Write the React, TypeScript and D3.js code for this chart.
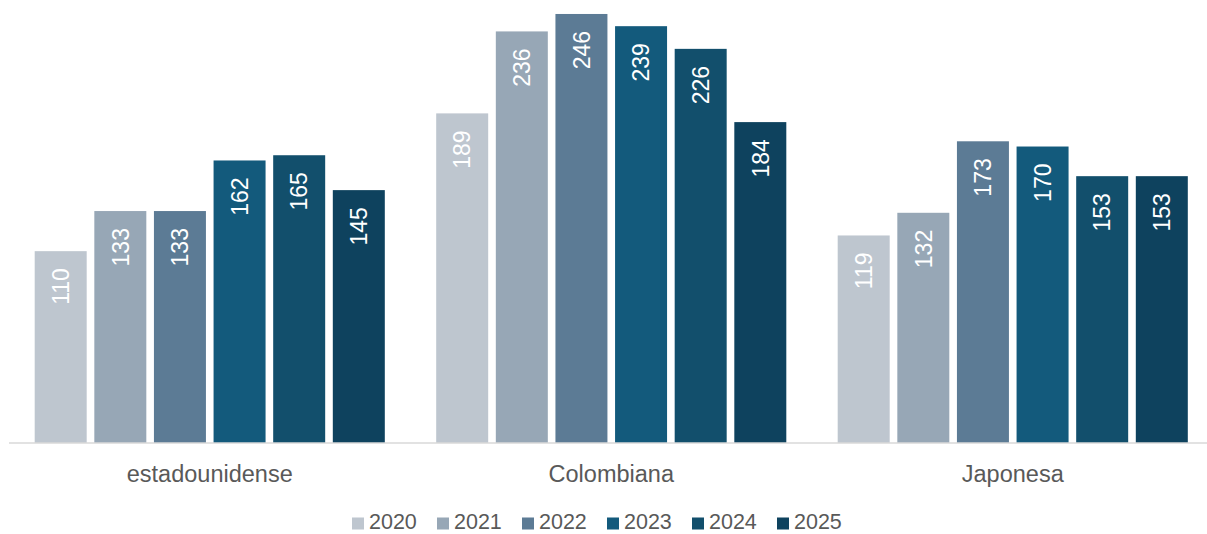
import React from "react";
import * as d3 from "d3";

const categories = ["estadounidense", "Colombiana", "Japonesa"];
const years = ["2020", "2021", "2022", "2023", "2024", "2025"];
const values2020 = [110, 189, 119];
const values2021 = [133, 236, 132];
const values2022 = [133, 246, 173];
const values2023 = [162, 239, 170];
const values2024 = [165, 226, 153];
const values2025 = [145, 184, 153];
const seriesValues = [values2020, values2021, values2022, values2023, values2024, values2025];
const colors = ["#BEC6CF", "#97A7B6", "#5C7B95", "#135A7C", "#124F6C", "#0E425E"];

const W = 1207;
const H = 534;
const baseY = 443;

export default function App() {
  const x0 = d3
    .scaleBand<string>()
    .domain(categories)
    .range([9, 1213.5])
    .paddingInner(0.128)
    .paddingOuter(0.064);
  const x1 = d3
    .scaleBand<string>()
    .domain(years)
    .range([0, x0.bandwidth()])
    .paddingInner(0.128);
  const y = d3.scaleLinear().domain([0, 250]).range([baseY, baseY - 250 * 1.744]);

  const font = "Liberation Sans, Arial, sans-serif";
  const legendStart = 352;
  const legendStep = 85;

  return (
    <svg
      width={W}
      height={H}
      style={{ position: "absolute", left: 0, top: 0, background: "#fff" }}
      fontFamily={font}
    >
      {categories.map((c, ci) => (
        <g key={c} transform={`translate(${x0(c)},0)`}>
          {years.map((yr, si) => {
            const v = seriesValues[si][ci];
            const bx = x1(yr)!;
            const bw = x1.bandwidth();
            const top = y(v);
            return (
              <g key={yr}>
                <rect x={bx} y={top} width={bw} height={baseY - top} fill={colors[si]} />
                <text
                  transform={`translate(${bx + bw / 2},${top + 17}) rotate(-90)`}
                  textAnchor="end"
                  dy="0.36em"
                  fill="#fff"
                  fontSize={23}
                >
                  {v}
                </text>
              </g>
            );
          })}
        </g>
      ))}
      <line x1={9} x2={W} y1={baseY} y2={baseY} stroke="#D9D9D9" strokeWidth={1.5} />
      {categories.map((c) => (
        <text
          key={c}
          x={x0(c)! + x0.bandwidth() / 2}
          y={482}
          textAnchor="middle"
          fill="#595959"
          fontSize={23.5}
        >
          {c}
        </text>
      ))}
      {years.map((yr, i) => (
        <g key={yr} transform={`translate(${legendStart + i * legendStep},0)`}>
          <rect x={0} y={517.5} width={12} height={12} fill={colors[i]} />
          <text x={17} y={529} fill="#595959" fontSize={21.5}>
            {yr}
          </text>
        </g>
      ))}
    </svg>
  );
}
